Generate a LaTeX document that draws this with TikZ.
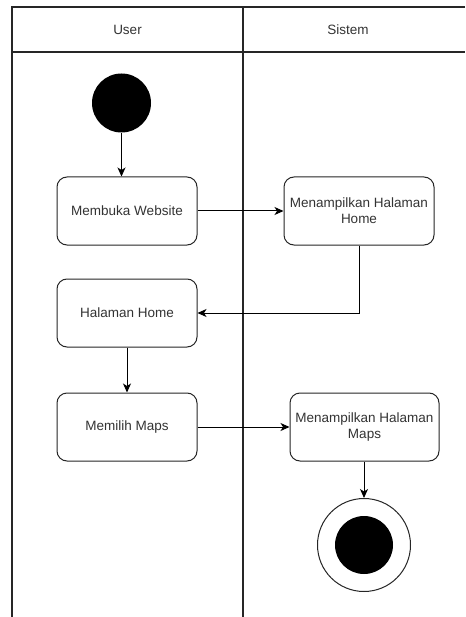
\documentclass[tikz,border=0pt]{standalone}
\usepackage{fontspec}
\setmainfont{Liberation Sans}
\usetikzlibrary{arrows.meta}
\definecolor{txt}{HTML}{333333}
\tikzset{
  lane/.style={draw=black!85, line width=1.4pt},
  action/.style={draw=black!85, line width=1pt, rounded corners=10pt, fill=white,
    minimum width=140pt, minimum height=68pt, align=center, text=txt,
    font=\fontsize{13.5}{16}\selectfont, inner sep=2pt},
  flow/.style={draw=black, line width=1pt, -{Stealth[length=9pt,width=8pt,inset=2.5pt]}},
  lanelabel/.style={text=txt, font=\fontsize{13.5}{16}\selectfont},
}
\begin{document}
\begin{tikzpicture}[x=1pt,y=-1pt]
\useasboundingbox (0,0) rectangle (465,617);
% swimlane frame
\draw[lane] (465,7) -- (12,7) -- (12,617);
\draw[lane] (12,52) -- (465,52);
\draw[lane] (243,7) -- (243,617);
\node[lanelabel] (userlbl) at (127.5,29.5) {User};
\node[lanelabel] (sistemlbl) at (348,29.5) {Sistem};

% start node
\node[circle, fill=black, minimum size=59pt, inner sep=0pt] (start) at (121.5,103) {};

% actions
\node[action] (membuka) at (127,211) {Membuka Website};
\node[action, minimum width=150pt] (tampilhome) at (359,211) {Menampilkan Halaman\\Home};
\node[action] (halhome) at (127,313) {Halaman Home};
\node[action] (pilihmaps) at (127,427) {Memilih Maps};
\node[action, minimum width=149pt] (tampilmaps) at (364.5,427) {Menampilkan Halaman\\Maps};

% end node
\node[circle, draw=black!85, line width=1pt, fill=white, minimum size=93pt, inner sep=0pt] (stop) at (364,545) {};
\node[circle, fill=black, minimum size=58pt, inner sep=0pt] (stopdot) at (stop.center) {};

% flows
\draw[flow] (start.south) -- (membuka.north -| start.south);
\draw[flow] (membuka.east) -- (tampilhome.west);
\draw[flow] (tampilhome.south) |- (halhome.east);
\draw[flow] (halhome.south) -- (pilihmaps.north);
\draw[flow] (pilihmaps.east) -- (tampilmaps.west);
\draw[flow] (tampilmaps.south -| stop.north) -- (stop.north);
\end{tikzpicture}
\end{document}
